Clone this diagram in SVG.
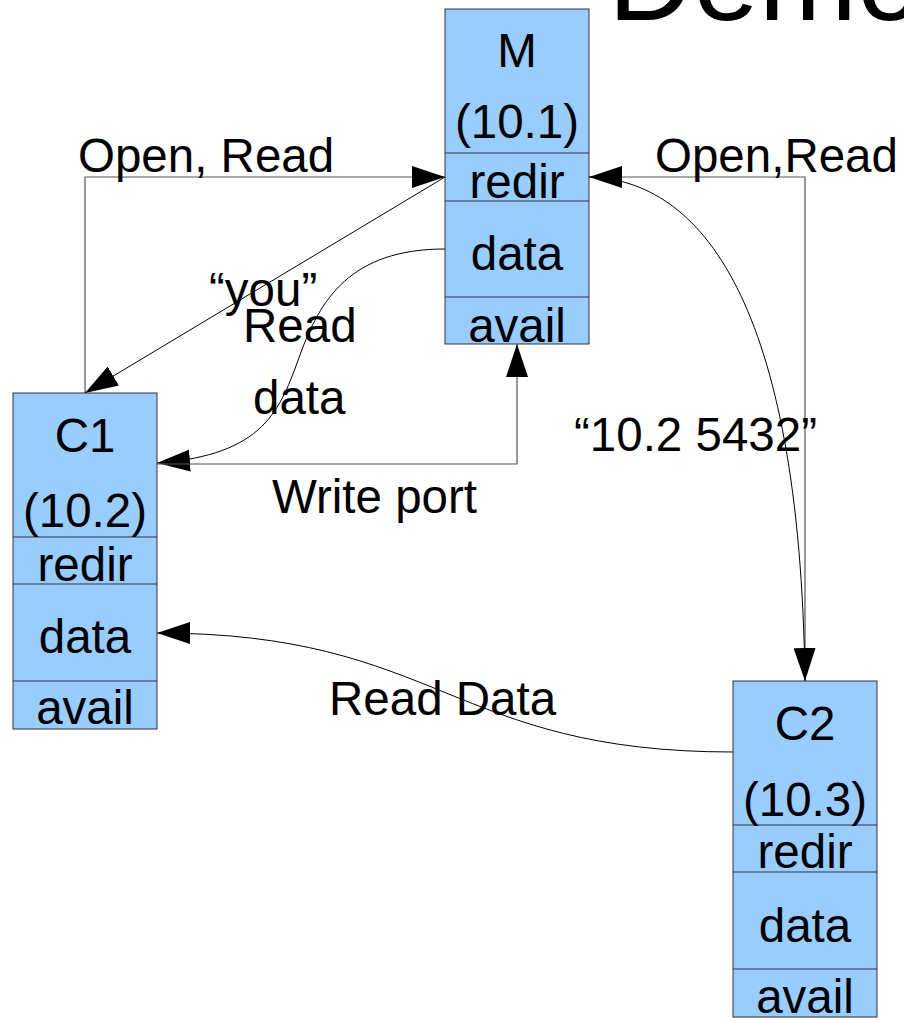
<svg xmlns="http://www.w3.org/2000/svg" width="904" height="1018" viewBox="0 0 904 1018">
<defs>
<style>
.box{fill:#99ccff;stroke:#333;stroke-width:1}
.div{stroke:#333;stroke-width:1.2}
.t{font-family:"Liberation Sans",Arial,sans-serif;font-size:47.5px;fill:#000}
.c{text-anchor:middle}
.ortho{fill:none;stroke:#555;stroke-width:1.2}
.curve{fill:none;stroke:#000;stroke-width:1}
</style>
<marker id="arr" viewBox="0 0 33 22" refX="33" refY="11" markerWidth="33" markerHeight="22" markerUnits="userSpaceOnUse" orient="auto">
<path d="M0,0 L33,11 L0,22 z" fill="#000"/>
</marker>
</defs>
<rect width="904" height="1018" fill="#fff"/>
<text id="title" x="608" y="20" font-family="Liberation Sans, Arial, sans-serif" font-size="118" fill="#000">Demo</text>

<g id="connectors">
<path class="ortho" d="M85,393 V177 H445" marker-end="url(#arr)"/>
<path class="curve" d="M445,177 L85,393" marker-end="url(#arr)"/>
<path class="curve" d="M445,249 C350,249 320,300 300,355 C280,410 265,455 157,463" marker-end="url(#arr)"/>
<path class="ortho" d="M157,464 H517 V344" marker-end="url(#arr)"/>
<path class="ortho" d="M805,681 V177 H589" marker-end="url(#arr)"/>
<path class="curve" d="M589,177 C700,180 800,300 805,681" marker-end="url(#arr)"/>
<path class="curve" d="M733,752 C450,752 440,633 157,633" marker-end="url(#arr)"/>
<text class="t" x="78" y="172">Open, Read</text>
<text class="t" x="655" y="172">Open,Read</text>
<text class="t" x="209" y="306">“you”</text>
<text class="t" x="243" y="342">Read</text>
<text class="t" x="253" y="414">data</text>
<text class="t" x="272" y="513">Write port</text>
<text class="t" x="574" y="451">“10.2 5432”</text>
<text class="t" x="329" y="715">Read Data</text>
</g>

<g id="M">
<rect class="box" x="445" y="9" width="144" height="335"/>
<line class="div" x1="445" y1="153" x2="589" y2="153"/>
<line class="div" x1="445" y1="201" x2="589" y2="201"/>
<line class="div" x1="445" y1="297" x2="589" y2="297"/>
<text class="t c" x="517" y="67">M</text>
<text class="t c" x="517" y="138">(10.1)</text>
<text class="t c" x="517" y="198">redir</text>
<text class="t c" x="517" y="270">data</text>
<text class="t c" x="517" y="342">avail</text>
</g>

<g id="C1">
<rect class="box" x="13" y="393" width="144" height="336"/>
<line class="div" x1="13" y1="537" x2="157" y2="537"/>
<line class="div" x1="13" y1="584" x2="157" y2="584"/>
<line class="div" x1="13" y1="681" x2="157" y2="681"/>
<text class="t c" x="85" y="452">C1</text>
<text class="t c" x="85" y="527">(10.2)</text>
<text class="t c" x="85" y="581">redir</text>
<text class="t c" x="85" y="653">data</text>
<text class="t c" x="85" y="724">avail</text>
</g>

<g id="C2">
<rect class="box" x="733" y="681" width="144" height="336"/>
<line class="div" x1="733" y1="825" x2="877" y2="825"/>
<line class="div" x1="733" y1="872" x2="877" y2="872"/>
<line class="div" x1="733" y1="969" x2="877" y2="969"/>
<text class="t c" x="805" y="740">C2</text>
<text class="t c" x="805" y="816">(10.3)</text>
<text class="t c" x="805" y="868">redir</text>
<text class="t c" x="805" y="942">data</text>
<text class="t c" x="805" y="1013">avail</text>
</g>
</svg>
